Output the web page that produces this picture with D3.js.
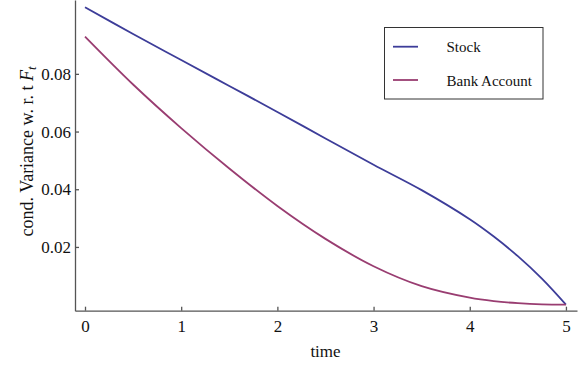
<!DOCTYPE html>
<html>
<head>
<meta charset="utf-8">
<script src="https://cdn.jsdelivr.net/npm/d3@7"></script>
<style>
  body { margin: 0; background: #fff; }
  text { font-family: "Liberation Serif", "Times New Roman", serif; fill: #111; }
  .axis path, .axis line { stroke: #555; stroke-width: 1.3; }
</style>
</head>
<body>
<div id="chart"></div>
<script>
var times      = [0, 0.5, 1, 1.5, 2, 2.5, 3, 3.5, 4, 4.25, 4.5, 4.75, 5],
    stock      = [0.1031, 0.0938, 0.0848, 0.0758, 0.0668, 0.0576, 0.0485, 0.0397, 0.0296, 0.0236, 0.0168, 0.0090, 0],
    bank       = [0.0929, 0.0763, 0.0612, 0.0472, 0.0342, 0.0228, 0.0133, 0.0064, 0.0024, 0.0012, 0.0005, 0.0001, 0],
    xTicks     = [0, 1, 2, 3, 4, 5],
    yTicks     = [0.02, 0.04, 0.06, 0.08],
    seriesNames = ["Stock", "Bank Account"],
    colors     = ["#3d3d99", "#993d71"];

var width = 582,
    height = 365,
    xScale = d3.scaleLinear()
               .domain([-0.104, 5.115])
               .range([75, 577]),
    yScale = d3.scaleLinear()
               .domain([-0.0021, 0.1056])
               .range([310.7, 0]),
    xAxis = d3.axisBottom(xScale)
              .tickValues(xTicks)
              .tickFormat(d3.format("d"))
              .tickSizeInner(-4)
              .tickSizeOuter(0)
              .tickPadding(9),
    yAxis = d3.axisLeft(yScale)
              .tickValues(yTicks)
              .tickFormat(d3.format(".2f"))
              .tickSizeInner(-4)
              .tickSizeOuter(0)
              .tickPadding(4);

var svg = d3.select("#chart").append("svg")
    .attr("width", width)
    .attr("height", height);

svg.append("g")
    .attr("class", "axis axis-x")
    .attr("transform", "translate(0," + yScale.range()[0] + ")")
    .call(xAxis)
    .attr("font-family", "Liberation Serif")
    .attr("font-size", 17);

svg.append("g")
    .attr("class", "axis axis-y")
    .attr("transform", "translate(" + xScale.range()[0] + ",0)")
    .call(yAxis)
    .attr("font-family", "Liberation Serif")
    .attr("font-size", 17);

// axis titles
svg.append("text")
    .attr("x", 325.5)
    .attr("y", 357)
    .attr("text-anchor", "middle")
    .style("font-size", "17px")
    .text("time");

var ylab = svg.append("text")
    .attr("transform", "translate(33,151.5) rotate(-90)")
    .attr("text-anchor", "middle")
    .style("font-size", "18px");
ylab.append("tspan").text("cond. Variance w. r. t ");
ylab.append("tspan").style("font-style", "italic").text("F");
ylab.append("tspan").style("font-style", "italic").style("font-size", "13px")
    .attr("dy", 3).text("t");

// curves
var line = d3.line()
    .x(function(d) { return xScale(d[0]); })
    .y(function(d) { return yScale(d[1]); })
    .curve(d3.curveCatmullRom.alpha(0.5));

[stock, bank].forEach(function(vals, i) {
  svg.append("path")
      .datum(times.map(function(t, j) { return [t, vals[j]]; }))
      .attr("fill", "none")
      .attr("stroke", colors[i])
      .attr("stroke-width", 1.8)
      .attr("d", line);
});

// legend
var legend = svg.append("g");
legend.append("rect")
    .attr("x", 384.5)
    .attr("y", 27.5)
    .attr("width", 158.5)
    .attr("height", 71.5)
    .attr("fill", "#fff")
    .attr("stroke", "#333")
    .attr("stroke-width", 1);

seriesNames.forEach(function(name, i) {
  var y = 46.7 + i * 33.3;
  legend.append("line")
      .attr("x1", 393).attr("x2", 418)
      .attr("y1", y).attr("y2", y)
      .attr("stroke", colors[i])
      .attr("stroke-width", 1.8);
  legend.append("text")
      .attr("x", 446.5)
      .attr("y", y + 5.5)
      .style("font-size", "15px")
      .text(name);
});
</script>
</body>
</html>
